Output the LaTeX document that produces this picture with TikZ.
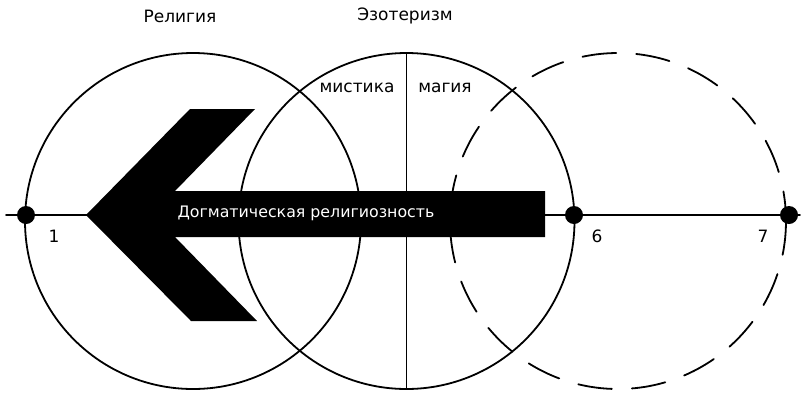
\documentclass[tikz,border=0pt]{standalone}
\usepackage{fontspec}
\setmainfont{DejaVu Sans}
\begin{document}
\begin{tikzpicture}[x=1pt, y=-1pt, line join=round, line cap=round,
	font=\fontsize{17}{20}\selectfont,
	ring/.style={line width=1.8pt},
	dot/.style={circle, fill, inner sep=0pt, minimum size=18pt}]
	\def \r{168}
	\useasboundingbox (0,0) rectangle (801,392);
	\coordinate (rel) at (193,221);
	\coordinate (eso) at (406.5,221);
	\coordinate (mag) at (618,221);
	\draw[ring] (rel) circle[radius=\r];
	\draw[ring] (eso) circle[radius=\r];
	\draw[ring, dash pattern=on 34pt off 20pt] (mag) circle[radius=\r];
	\draw[ring] (eso) ++(0,-\r) -- ++(0,2*\r);
	\draw[ring] (6,215) -- (800,215);
	% arrow
	\fill (86,215) -- (190,109) -- (255,109) -- (175,191) -- (545,191) -- (545,237)
		-- (175,237) -- (257,321) -- (191,321) -- cycle;
	\node[text=white, font=\fontsize{15.8}{18}\selectfont] (dogma) at (306,213) {Догматическая религиозность};
	\node[dot] (p1) at (26,215) {};
	\node[dot] (p6) at (574,215) {};
	\node[dot] (p7) at (789,215) {};
	\node (n1) at (54,236) {1};
	\node (n6) at (597,236) {6};
	\node (n7) at (763,236) {7};
	\node (religion) at (180,16) {Религия};
	\node (esoterism) at (405,16) {Эзотеризм};
	\node (mystic) at (357,88) {мистика};
	\node (magic) at (445,88) {магия};
\end{tikzpicture}
\end{document}
